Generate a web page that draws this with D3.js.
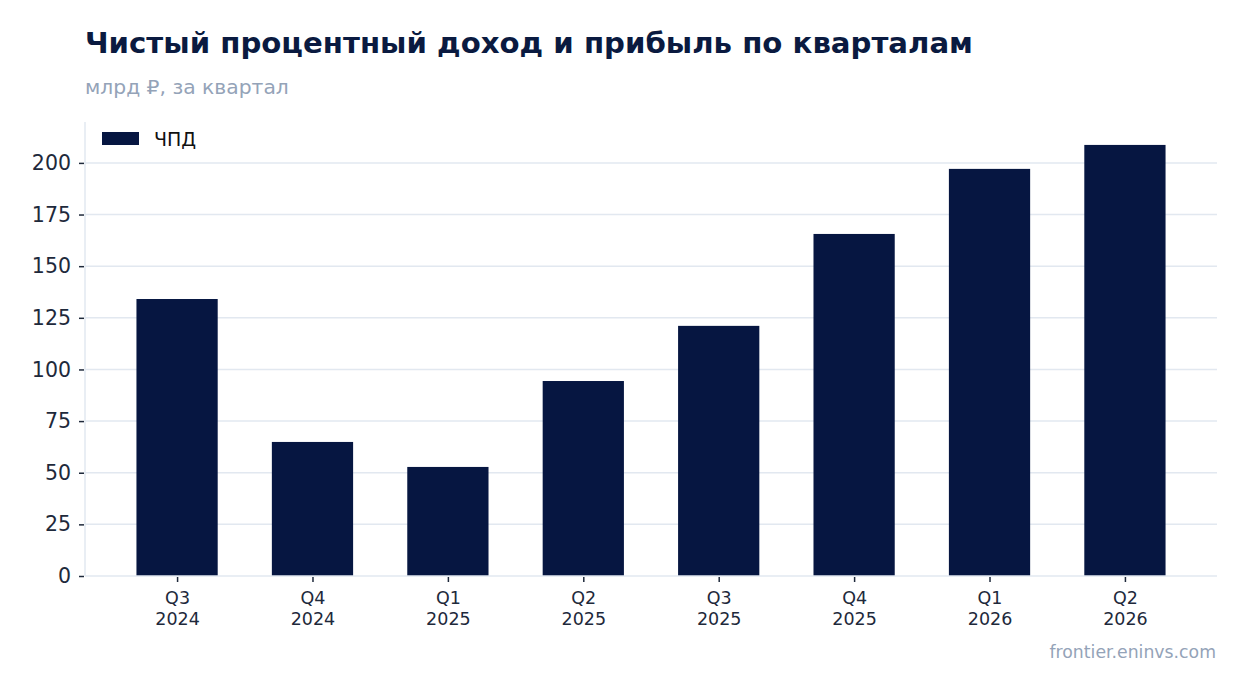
<!DOCTYPE html>
<html>
<head>
<meta charset="utf-8">
<script src="https://cdn.jsdelivr.net/npm/d3@7"></script>
<style>
  body { margin: 0; background: #fff; }
  svg { display: block; font-family: "DejaVu Sans", sans-serif; }
</style>
</head>
<body>
<svg id="chart" width="1247" height="693"></svg>
<script>
var quarters = ['Q3', 'Q4', 'Q1', 'Q2', 'Q3', 'Q4', 'Q1', 'Q2']
var years = ['2024', '2024', '2025', '2025', '2025', '2025', '2026', '2026']
var nii = [134.1, 64.9, 52.8, 94.4, 121.1, 165.6, 197.1, 208.7]
var yTicks = [0, 25, 50, 75, 100, 125, 150, 175, 200]

var plotLeft = 85, plotRight = 1217, plotTop = 122, plotBottom = 576
var barWidth = 0.6

var svg = d3.select('#chart')

var x = d3.scaleLinear()
    .domain([-0.68, nii.length - 1 + 0.68])
    .range([plotLeft, plotRight])
var y = d3.scaleLinear()
    .domain([0, 219.8])
    .range([plotBottom, plotTop])

// title block
svg.append('text')
    .attr('x', 85).attr('y', 53)
    .style('font-size', '29.2px').style('font-weight', 'bold')
    .style('fill', '#0a1a40')
    .text('Чистый процентный доход и прибыль по кварталам')
svg.append('text')
    .attr('x', 85).attr('y', 94)
    .style('font-size', '20.3px').style('fill', '#94a3b8')
    .text('млрд ₽, за квартал')

// grid
svg.append('g').selectAll('line')
    .data(yTicks.slice(1))
    .enter().append('line')
    .attr('x1', plotLeft).attr('x2', plotRight)
    .attr('y1', function (d) { return y(d) }).attr('y2', function (d) { return y(d) })
    .style('stroke', '#e2e8f0').style('stroke-width', 1.5)

// bars
svg.append('g').selectAll('rect')
    .data(nii)
    .enter().append('rect')
    .attr('x', function (d, i) { return x(i - barWidth / 2) })
    .attr('width', function (d, i) { return x(i + barWidth / 2) - x(i - barWidth / 2) })
    .attr('y', function (d) { return y(d) })
    .attr('height', function (d) { return y(0) - y(d) })
    .style('fill', '#061641')

// spines
svg.append('line')
    .attr('x1', plotLeft).attr('x2', plotLeft).attr('y1', plotTop).attr('y2', plotBottom)
    .style('stroke', '#e2e8f0').style('stroke-width', 1.5)
svg.append('line')
    .attr('x1', plotLeft).attr('x2', plotRight).attr('y1', plotBottom).attr('y2', plotBottom)
    .style('stroke', '#e2e8f0').style('stroke-width', 1.5)

// y axis
var yAxis = svg.append('g')
    .attr('transform', 'translate(' + (plotLeft - 1) + ',0)')
    .call(d3.axisLeft(y).tickValues(yTicks).tickSize(5).tickPadding(8))
yAxis.select('.domain').remove()
yAxis.selectAll('line').style('stroke', '#1e293b').style('stroke-width', 1.5)
yAxis.selectAll('text')
    .style('font-size', '20.5px').style('fill', '#1e293b')
    .style('font-family', '"DejaVu Sans", sans-serif')

// x axis
var xAxis = svg.append('g')
    .attr('transform', 'translate(0,' + (plotBottom + 1) + ')')
    .call(d3.axisBottom(x).tickValues(d3.range(nii.length)).tickSize(5).tickFormat(''))
xAxis.select('.domain').remove()
xAxis.selectAll('line').style('stroke', '#1e293b').style('stroke-width', 1.5)
xAxis.selectAll('.tick').each(function (d) {
    var t = d3.select(this).append('text')
        .attr('text-anchor', 'middle')
        .style('font-size', '17.5px').style('fill', '#1e293b')
        .style('font-family', '"DejaVu Sans", sans-serif')
    t.append('tspan').attr('x', 0).attr('y', 27).text(quarters[d])
    t.append('tspan').attr('x', 0).attr('y', 48).text(years[d])
})

// legend
svg.append('rect')
    .attr('x', 102).attr('y', 132).attr('width', 37).attr('height', 13)
    .style('fill', '#061641')
svg.append('text')
    .attr('x', 154).attr('y', 146)
    .style('font-size', '19px').style('fill', '#111')
    .text('ЧПД')

// source
svg.append('text')
    .attr('x', 1216).attr('y', 658)
    .attr('text-anchor', 'end')
    .style('font-size', '17.3px').style('fill', '#94a3b8')
    .text('frontier.eninvs.com')
</script>
</body>
</html>
